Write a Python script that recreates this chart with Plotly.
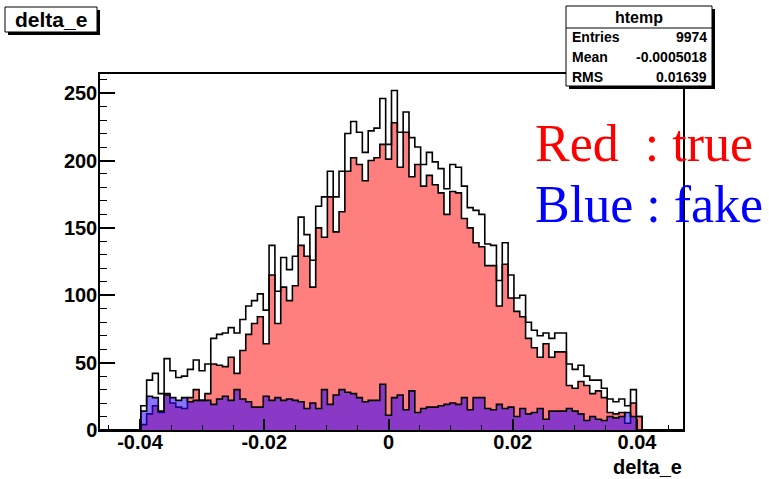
import numpy as np
import plotly.graph_objects as go

# ---------------- data ----------------
x_min, x_max, n_bins = -0.04644, 0.04740, 100

total = [0]*7 + [18, 37, 42, 27, 53, 44, 39, 40, 45, 52, 44, 49, 68, 71, 72, 76, 72, 82, 92, 96,
        101, 89, 137, 103, 128, 119, 129, 158, 145, 126, 166, 173, 192, 173, 192, 220, 229, 221, 206, 222,
        224, 246, 212, 252, 221, 236, 217, 210, 197, 206, 199, 194, 179, 197, 195, 181, 165, 163, 160, 138,
        137, 111, 139, 115, 98, 100, 80, 74, 70, 72, 68, 72, 72, 49, 45, 48, 40, 37, 37, 31,
        23, 21, 23, 18, 30, 10] + [0]*7
true_ = [0]*7 + [4, 12, 18, 13, 27, 20, 17, 16, 24, 30, 22, 27, 49, 48, 47, 54, 42, 59, 71, 79,
        84, 64, 115, 79, 106, 96, 107, 137, 129, 106, 150, 143, 173, 147, 162, 192, 202, 197, 185, 200,
        202, 212, 201, 228, 195, 221, 188, 197, 181, 189, 182, 176, 160, 177, 176, 157, 150, 139, 136, 122,
        122, 92, 123, 98, 88, 84, 68, 61, 54, 64, 54, 58, 58, 33, 31, 36, 33, 27, 29, 24,
        13, 12, 13, 5, 20, 10] + [0]*7
fake = [0]*7 + [14, 25, 24, 14, 26, 24, 22, 24, 21, 22, 22, 22, 19, 23, 25, 22, 30, 23, 21, 17,
        17, 25, 22, 24, 22, 23, 22, 21, 16, 20, 16, 30, 19, 26, 30, 28, 27, 24, 21, 22,
        22, 34, 11, 24, 26, 15, 29, 13, 16, 17, 17, 18, 19, 20, 19, 24, 15, 24, 24, 16,
        15, 19, 16, 17, 10, 16, 12, 13, 16, 8, 14, 14, 14, 16, 14, 12, 7, 10, 8, 7,
        10, 9, 10, 13, 10, 0] + [0]*7

x_ticks = [-0.04, -0.02, 0, 0.02, 0.04]
x_tick_labels = ["-0.04", "-0.02", "0", "0.02", "0.04"]
y_ticks = [0, 50, 100, 150, 200, 250]
y_range_max = 264.2

stats_title = "htemp"
stats_rows = [("Entries", "9974"), ("Mean", "-0.0005018"), ("RMS", "0.01639")]

# ---------------- figure ----------------
W, H = 769, 479
L, R, T, B = 100, 683, 74, 430   # frame in pixels


def px(xp):
    return (xp - L) / (R - L)


def py(yp):
    return (B - yp) / (B - T)


edges = np.linspace(x_min, x_max, n_bins + 1)


def steps(vals):
    return list(vals) + [vals[-1]]


fig = go.Figure()
fig.add_trace(go.Scatter(x=edges, y=steps(total), mode="lines", line_shape="hv",
                         line=dict(color="black", width=1.6), fill="tozeroy",
                         fillcolor="white", showlegend=False, hoverinfo="skip"))
fig.add_trace(go.Scatter(x=edges, y=steps(true_), mode="lines", line_shape="hv",
                         line=dict(color="black", width=1.6), fill="tozeroy",
                         fillcolor="rgba(255,0,0,0.5)", showlegend=False, hoverinfo="skip"))
fig.add_trace(go.Scatter(x=edges, y=steps(fake), mode="lines", line_shape="hv",
                         line=dict(color="black", width=1.6), fill="tozeroy",
                         fillcolor="rgba(40,0,255,0.55)", showlegend=False, hoverinfo="skip"))

sans = "Liberation Sans, Arial, Helvetica, sans-serif"
tick_font = dict(family=sans, size=20, color="black", weight="bold")

fig.update_layout(
    width=W, height=H,
    margin=dict(l=L, r=W - R, t=T, b=H - B, pad=0),
    paper_bgcolor="white", plot_bgcolor="white",
    xaxis=dict(range=[x_min, x_max], tickvals=x_ticks, ticktext=x_tick_labels,
               ticks="inside", ticklen=11, tickwidth=1.5, tickcolor="black",
               minor=dict(dtick=0.005, ticks="inside", ticklen=5, tickwidth=1, tickcolor="black"),
               showline=True, linecolor="black", linewidth=1.5, mirror=True,
               showgrid=False, zeroline=False, tickfont=tick_font, ticklabelstandoff=-7),
    yaxis=dict(range=[0, y_range_max], tickvals=y_ticks,
               ticks="inside", ticklen=15, tickwidth=1.5, tickcolor="black",
               minor=dict(dtick=10, ticks="inside", ticklen=7, tickwidth=1, tickcolor="black"),
               showline=True, linecolor="black", linewidth=1.5, mirror=True,
               showgrid=False, zeroline=False, tickfont=tick_font, ticklabelstandoff=-3),
)

shapes = []
annotations = []

# title box "delta_e"
tb = (5, 7, 97, 32)
shapes.append(dict(type="rect", xref="paper", yref="paper", x0=px(tb[0] + 3), x1=px(tb[2] + 3),
                   y0=py(tb[3] + 3), y1=py(tb[1] + 3), fillcolor="black", line=dict(width=0)))
shapes.append(dict(type="rect", xref="paper", yref="paper", x0=px(tb[0]), x1=px(tb[2]),
                   y0=py(tb[3]), y1=py(tb[1]), fillcolor="white", line=dict(color="black", width=1)))
annotations.append(dict(xref="paper", yref="paper", x=px((tb[0] + tb[2]) / 2), y=py((tb[1] + tb[3]) / 2),
                        text="delta_e", showarrow=False, xanchor="center", yanchor="middle",
                        font=dict(family=sans, size=21, color="black", weight="bold")))

# stats box
sb = (566, 6, 712, 86)
shapes.append(dict(type="rect", xref="paper", yref="paper", x0=px(sb[0] + 3), x1=px(sb[2] + 3),
                   y0=py(sb[3] + 3), y1=py(sb[1] + 3), fillcolor="black", line=dict(width=0)))
shapes.append(dict(type="rect", xref="paper", yref="paper", x0=px(sb[0]), x1=px(sb[2]),
                   y0=py(sb[3]), y1=py(sb[1]), fillcolor="white", line=dict(color="black", width=1)))
shapes.append(dict(type="line", xref="paper", yref="paper", x0=px(sb[0]), x1=px(sb[2]),
                   y0=py(28), y1=py(28), line=dict(color="black", width=1)))
stat_font = dict(family=sans, size=14, color="black", weight="bold")
annotations.append(dict(xref="paper", yref="paper", x=px((sb[0] + sb[2]) / 2), y=py(17),
                        text=stats_title, showarrow=False, xanchor="center", yanchor="middle",
                        font=dict(family=sans, size=16, color="black", weight="bold")))
for k, (name, val) in enumerate(stats_rows):
    yy = py(37 + k * 20)
    annotations.append(dict(xref="paper", yref="paper", x=px(sb[0] + 4), y=yy, text=name,
                            showarrow=False, xanchor="left", yanchor="middle", font=stat_font))
    annotations.append(dict(xref="paper", yref="paper", x=px(sb[2] - 3), y=yy, text=val,
                            showarrow=False, xanchor="right", yanchor="middle", font=stat_font))

# x axis title
annotations.append(dict(xref="paper", yref="paper", x=px(684), y=py(467), text="delta_e",
                        showarrow=False, xanchor="right", yanchor="middle",
                        font=dict(family=sans, size=20, color="black", weight="bold")))

# Red / Blue labels
serif = "Liberation Serif, Times New Roman, serif"
annotations.append(dict(xref="paper", yref="paper", x=px(533), y=py(143), text="Red\u00a0\u00a0: true",
                        showarrow=False, xanchor="left", yanchor="middle",
                        font=dict(family=serif, size=52, color="red")))
annotations.append(dict(xref="paper", yref="paper", x=px(533), y=py(204), text="Blue : fake",
                        showarrow=False, xanchor="left", yanchor="middle",
                        font=dict(family=serif, size=52, color="blue")))

fig.update_layout(shapes=shapes, annotations=annotations)
fig.write_html("out.html")
